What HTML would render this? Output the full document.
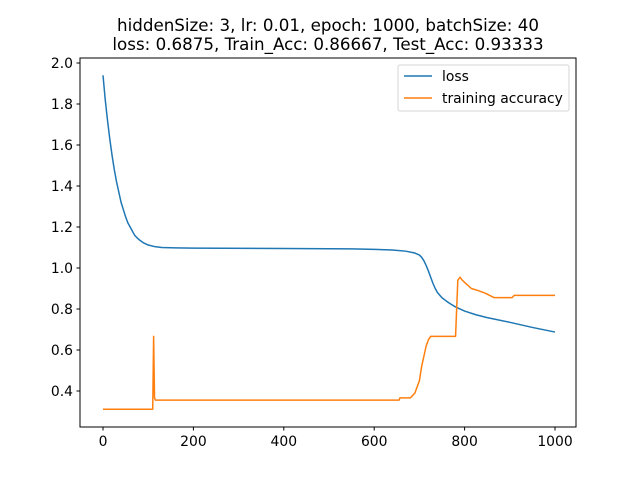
<!DOCTYPE html>
<html><head><meta charset="utf-8"><style>
body{margin:0;background:#fff;font-family:"DejaVu Sans","Liberation Sans",sans-serif;}
svg text{font-family:"DejaVu Sans","Liberation Sans",sans-serif;}
</style></head><body>
<svg id="chart" width="640" height="480" xmlns="http://www.w3.org/2000/svg">
<rect width="640" height="480" fill="#fff"/>
<text x="328" y="31" font-size="16.7" text-anchor="middle">hiddenSize: 3, lr: 0.01, epoch: 1000, batchSize: 40</text>
<text x="328" y="50" font-size="16.7" text-anchor="middle">loss: 0.6875, Train_Acc: 0.86667, Test_Acc: 0.93333</text>
<g id="ticks"></g>
<g id="series"></g>
<rect x="80" y="58" width="496" height="369" fill="none" stroke="#000" stroke-width="1"/>
<g>
<rect x="398" y="65" width="171" height="46" rx="2" fill="#fff" stroke="#ccc" opacity="0.8"/>
<line x1="404" y1="76" x2="432" y2="76" stroke="#1f77b4" stroke-width="1.5"/>
<text x="442" y="81" font-size="13.9">loss</text>
<line x1="404" y1="98" x2="432" y2="98" stroke="#ff7f0e" stroke-width="1.5"/>
<text x="442" y="103" font-size="13.9">training accuracy</text>
</g>
</svg>
<script>
const xTicks=[0,200,400,600,800,1000];
const yTicks=[0.4,0.6,0.8,1.0,1.2,1.4,1.6,1.8,2.0];
const lossEpochs=[0,5,10,15,20,25,30,35,40,45,50,55,60,65,70,75,80,90,100,115,130,160,200,400,550,600,640,670,690,700,705,710,715,720,725,730,735,740,750,760,770,780,800,825,850,900,950,1000];
const lossValues=[1.94,1.82,1.72,1.63,1.55,1.48,1.42,1.37,1.32,1.285,1.25,1.22,1.20,1.18,1.16,1.148,1.138,1.122,1.112,1.104,1.100,1.098,1.097,1.095,1.093,1.091,1.088,1.082,1.073,1.063,1.052,1.035,1.012,0.985,0.955,0.925,0.90,0.88,0.855,0.838,0.823,0.81,0.79,0.772,0.758,0.735,0.71,0.6875];
const accEpochs=[0,110,112,114,116,655,657,680,685,690,700,705,710,715,720,725,780,785,790,795,805,815,830,845,855,865,905,910,970,975,1000];
const accValues=[0.3111,0.3111,0.6667,0.3667,0.3556,0.3556,0.3667,0.3667,0.3778,0.39,0.45,0.52,0.57,0.62,0.65,0.6667,0.6667,0.94,0.955,0.94,0.92,0.90,0.89,0.8778,0.8667,0.8556,0.8556,0.8667,0.8667,0.8667,0.8667];
const X=v=>103+v*0.452;
const Y=v=>63+(2.0-v)*205;
const NS="http://www.w3.org/2000/svg";
const tg=document.getElementById('ticks');
xTicks.forEach(t=>{
 const l=document.createElementNS(NS,'line');
 l.setAttribute('x1',X(t));l.setAttribute('x2',X(t));l.setAttribute('y1',427);l.setAttribute('y2',430.5);l.setAttribute('stroke','#000');
 
 
 tg.appendChild(l);
 const tx=document.createElementNS(NS,'text');
 tx.setAttribute('x',X(t));tx.setAttribute('y',446);tx.setAttribute('font-size','13.9');tx.setAttribute('text-anchor','middle');
 tx.textContent=t;
 
 
 tg.appendChild(tx);
});
yTicks.forEach(t=>{
 const l=document.createElementNS(NS,'line');
 l.setAttribute('x1',76.5);l.setAttribute('x2',80);l.setAttribute('y1',Y(t));l.setAttribute('y2',Y(t));l.setAttribute('stroke','#000');
 
 
 tg.appendChild(l);
 const tx=document.createElementNS(NS,'text');
 tx.setAttribute('x',73);tx.setAttribute('y',Y(t)+5);tx.setAttribute('font-size','13.9');tx.setAttribute('text-anchor','end');
 tx.textContent=t.toFixed(1);
 
 
 tg.appendChild(tx);
});
const sg=document.getElementById('series');
function line(xs,ys,color,name){
 const p=document.createElementNS(NS,'polyline');
 p.setAttribute('points',xs.map((x,i)=>X(x)+','+Y(ys[i])).join(' '));
 p.setAttribute('fill','none');p.setAttribute('stroke',color);p.setAttribute('stroke-width','1.5');p.setAttribute('stroke-linejoin','round');
 
 
 sg.appendChild(p);
}
line(lossEpochs,lossValues,'#1f77b4','loss-line');
line(accEpochs,accValues,'#ff7f0e','accuracy-line');
</script>
</body></html>
